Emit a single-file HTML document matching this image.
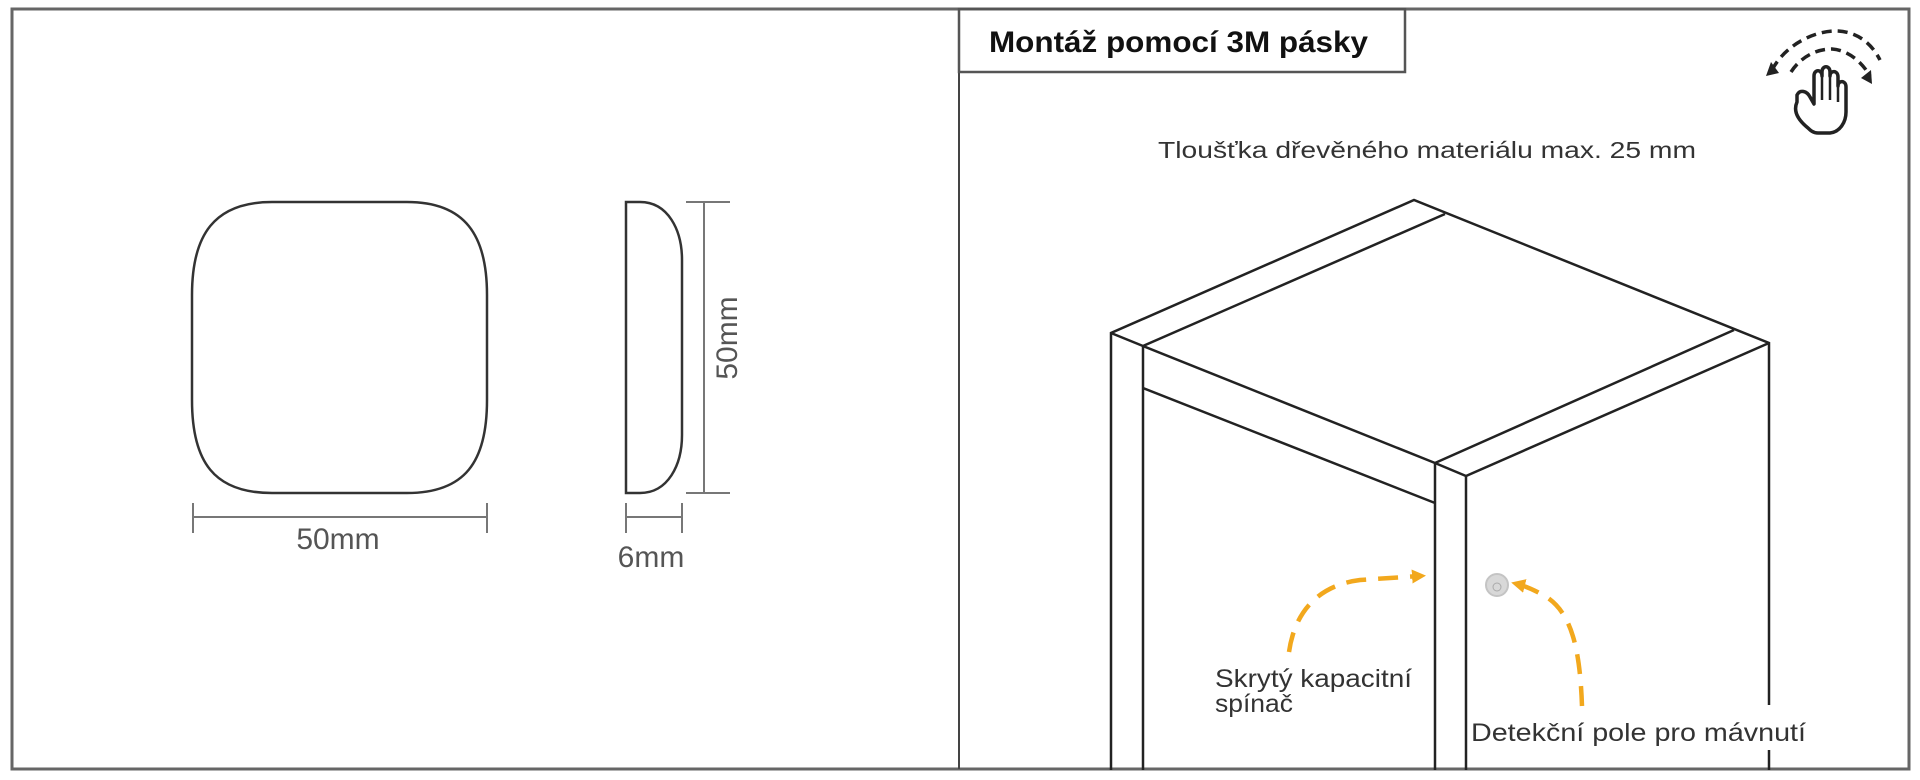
<!DOCTYPE html>
<html><head><meta charset="utf-8"><style>
html,body{margin:0;padding:0;background:#fff;}
svg{display:block;}
</style></head><body>
<svg width="1920" height="780" viewBox="0 0 1920 780" xmlns="http://www.w3.org/2000/svg">
<defs>
<marker id="ah" markerWidth="14" markerHeight="14" refX="8" refY="7" orient="auto" markerUnits="userSpaceOnUse">
<path d="M0,0 L14,7 L0,14 z" fill="#f2a81d"/>
</marker>
</defs>
<!-- frame -->
<rect x="12" y="9" width="1897" height="760" fill="none" stroke="#666" stroke-width="3"/>
<line x1="959" y1="9" x2="959" y2="769" stroke="#444" stroke-width="2"/>
<!-- title box -->
<rect x="959" y="9" width="446" height="63" fill="none" stroke="#555" stroke-width="2.5"/>
<text x="989" y="52" font-family="Liberation Sans, sans-serif" font-weight="bold" font-size="30" fill="#111" textLength="379" lengthAdjust="spacingAndGlyphs">Montáž pomocí 3M pásky</text>
<text x="1158" y="158" font-family="Liberation Sans, sans-serif" font-size="23" fill="#333" textLength="538" lengthAdjust="spacingAndGlyphs">Tloušťka dřevěného materiálu max. 25 mm</text>

<!-- left drawing -->
<g fill="none" stroke="#333" stroke-width="2.5">
<path d="M272,202 L407,202 C465,202 487,235 487,295 L487,400 C487,462 465,493 407,493 L272,493 C214,493 192,462 192,400 L192,295 C192,235 214,202 272,202 Z"/>
<path d="M626,202 L640,202 C668,202 682,230 682,260 L682,435 C682,465 668,493 640,493 L626,493 Z"/>
</g>
<g stroke="#777" stroke-width="2" fill="none">
<line x1="193" y1="517" x2="487" y2="517"/>
<line x1="193" y1="503" x2="193" y2="533"/>
<line x1="487" y1="503" x2="487" y2="533"/>
<line x1="704" y1="202" x2="704" y2="493"/>
<line x1="686" y1="202" x2="730" y2="202"/>
<line x1="686" y1="493" x2="730" y2="493"/>
<line x1="626" y1="517" x2="682" y2="517"/>
<line x1="626" y1="503" x2="626" y2="533"/>
<line x1="682" y1="503" x2="682" y2="533"/>
</g>
<g font-family="Liberation Sans, sans-serif" font-size="30" fill="#555">
<text x="338" y="549" text-anchor="middle">50mm</text>
<text x="651" y="567" text-anchor="middle">6mm</text>
<text x="0" y="0" text-anchor="middle" transform="translate(737,338) rotate(-90)">50mm</text>
</g>

<!-- cabinet -->
<g stroke="#222" stroke-width="2.5" fill="none" stroke-linejoin="miter">
<polyline points="1111,770 1111,333 1414,200 1769,343 1769,705"/>
<line x1="1769" y1="740" x2="1769" y2="770"/>
<polyline points="1143,770 1143,346 1445,214"/>
<line x1="1111" y1="333" x2="1143" y2="346"/>
<line x1="1143" y1="346" x2="1435" y2="463"/>
<line x1="1734" y1="330" x2="1435" y2="463"/>
<line x1="1769" y1="343" x2="1466" y2="476"/>
<line x1="1435" y1="463" x2="1466" y2="476"/>
<line x1="1143" y1="388" x2="1435" y2="503"/>
<line x1="1435" y1="463" x2="1435" y2="770"/>
<line x1="1466" y1="476" x2="1466" y2="770"/>
</g>
<!-- dot -->
<circle cx="1497" cy="585" r="11" fill="#d8d8d8" stroke="#c4c4c4" stroke-width="2"/>
<circle cx="1497" cy="587" r="4" fill="none" stroke="#aaa" stroke-width="1"/>
<!-- orange arrows -->
<g stroke="#f2a81d" stroke-width="4.5" fill="none" stroke-dasharray="20,12">
<path d="M1289,652 C1295,610 1320,585 1360,580 L1420,576" marker-end="url(#ah)"/>
<path d="M1582,706 C1580,650 1572,615 1548,598 C1535,590 1525,586 1517,584" marker-end="url(#ah)"/>
</g>
<g font-family="Liberation Sans, sans-serif" font-size="25" fill="#333">
<text x="1215" y="687" textLength="197" lengthAdjust="spacingAndGlyphs">Skrytý kapacitní</text>
<text x="1215" y="712" textLength="78" lengthAdjust="spacingAndGlyphs">spínač</text>
<rect x="1468" y="712" width="340" height="38" fill="#fff"/>
<text x="1471" y="741" textLength="335" lengthAdjust="spacingAndGlyphs">Detekční pole pro mávnutí</text>
</g>

<!-- hand icon -->
<g fill="none" stroke="#222" stroke-width="3.5" stroke-dasharray="10,6">
<path d="M1772,70 C1785,45 1815,30 1838,31 C1858,32 1872,44 1880,60"/>
<path d="M1791,72 C1800,58 1815,49 1832,49 C1848,50 1862,62 1870,76"/>
</g>
<path d="M1766,76 l13,-3 l-8,-11 z" fill="#222"/>
<path d="M1872,84 l-1,-14 l-10,8 z" fill="#222"/>
<path d="M1808,128 C1798,120 1793,111 1797,102 L1797,95 C1800,89 1807,91 1810,97 L1814,104 L1814,76 C1814,69 1822,69 1822,76 L1822,72 C1822,65 1830,65 1830,72 L1830,76 C1830,70 1838,70 1838,77 L1838,86 C1838,80 1846,80 1846,87 L1846,112 C1846,122 1840,132 1830,133 L1818,133 C1813,133 1810,130 1808,128 Z" fill="#fff" stroke="#222" stroke-width="3.5" stroke-linejoin="round"/>
<g stroke="#222" stroke-width="2.5"><line x1="1822" y1="76" x2="1822" y2="100"/><line x1="1830" y1="76" x2="1830" y2="100"/><line x1="1838" y1="86" x2="1838" y2="102"/></g>
</svg>
</body></html>
